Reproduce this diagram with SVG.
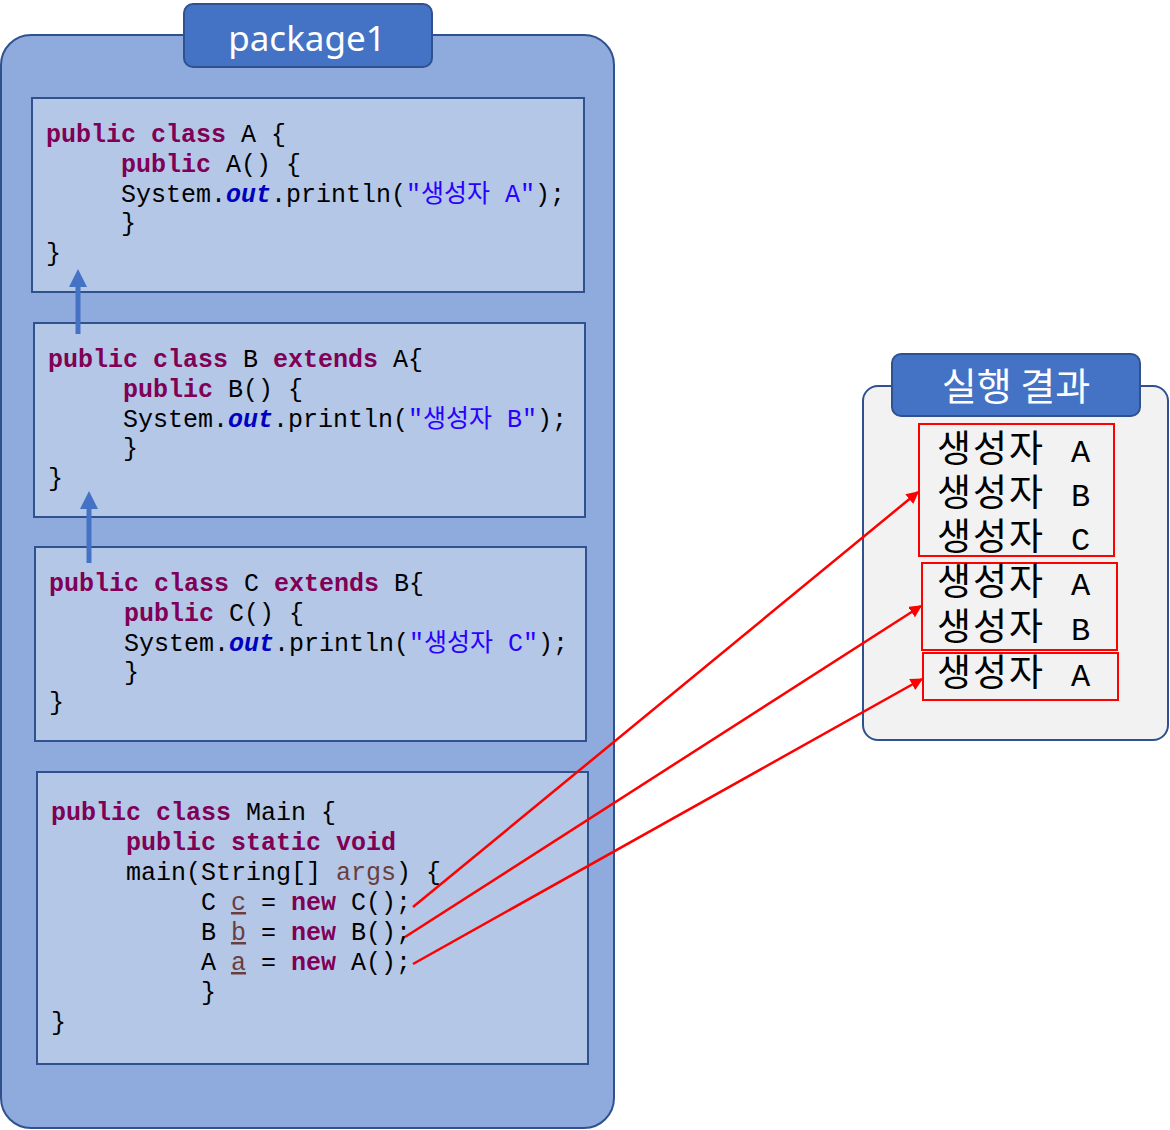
<svg xmlns="http://www.w3.org/2000/svg" width="1170" height="1130" viewBox="0 0 1170 1130" xml:space="preserve">
<defs>
<style>
.code{font-family:"Liberation Mono","Noto Sans CJK KR",monospace;font-size:25px;fill:#000}
.kw{fill:#7F0055;font-weight:bold}
.fld{fill:#0000C0;font-weight:bold;font-style:italic}
.str{fill:#2A00FF}
.var{fill:#6A3E3E}
.ul{fill:#6A3E3E;text-decoration:underline}
.box{fill:#B4C7E7;stroke:#2F528F;stroke-width:2}
.tab{fill:#4472C4;stroke:#2F528F;stroke-width:2}
.tabtxt{fill:#fff;font-family:"Noto Sans","Noto Sans CJK KR",sans-serif;font-size:35px;text-anchor:middle}
.rbox{fill:none;stroke:#FF0000;stroke-width:2}
.out{font-family:"Noto Sans CJK KR",sans-serif;font-size:37px;fill:#000;letter-spacing:2px}
.outl{font-family:"Liberation Mono",monospace;font-size:32px;letter-spacing:0}
.blue{stroke:#4472C4;stroke-width:5;fill:none}
.red{stroke:#FF0000;stroke-width:2.5;fill:none}
</style>
<marker id="bh" viewBox="0 0 10 10" refX="5" refY="5" markerWidth="4" markerHeight="3.6" orient="auto" markerUnits="strokeWidth"><path d="M0,0 L10,5 L0,10 z" fill="#4472C4"/></marker>
<marker id="rh" viewBox="0 0 10 10" refX="9" refY="5" markerWidth="5" markerHeight="5" orient="auto" markerUnits="strokeWidth"><path d="M0,0 L10,5 L0,10 z" fill="#FF0000"/></marker>
</defs>

<g id="package1">
<rect x="1" y="35" width="613" height="1093" rx="30" ry="30" fill="#8FAADC" stroke="#2F528F" stroke-width="2"/>
<rect class="tab" x="184" y="4" width="248" height="63" rx="9" ry="9"/>
<text class="tabtxt" x="307" y="51">package1</text>
</g>

<g id="classA">
<rect class="box" x="32" y="98" width="552" height="194"/>
<text class="code" x="46" y="142"><tspan class="kw">public class</tspan> A {</text>
<text class="code" x="121" y="172"><tspan class="kw">public</tspan> A() {</text>
<text class="code" x="121" y="202">System.<tspan class="fld">out</tspan>.println(<tspan class="str">"생성자 A"</tspan>);</text>
<text class="code" x="121" y="231">}</text>
<text class="code" x="46" y="261">}</text>
</g>

<g id="classB">
<rect class="box" x="34" y="323" width="551" height="194"/>
<text class="code" x="48" y="367"><tspan class="kw">public class</tspan> B <tspan class="kw">extends</tspan> A{</text>
<text class="code" x="123" y="397"><tspan class="kw">public</tspan> B() {</text>
<text class="code" x="123" y="427">System.<tspan class="fld">out</tspan>.println(<tspan class="str">"생성자 B"</tspan>);</text>
<text class="code" x="123" y="456">}</text>
<text class="code" x="48" y="486">}</text>
</g>

<g id="classC">
<rect class="box" x="35" y="547" width="551" height="194"/>
<text class="code" x="49" y="591"><tspan class="kw">public class</tspan> C <tspan class="kw">extends</tspan> B{</text>
<text class="code" x="124" y="621"><tspan class="kw">public</tspan> C() {</text>
<text class="code" x="124" y="651">System.<tspan class="fld">out</tspan>.println(<tspan class="str">"생성자 C"</tspan>);</text>
<text class="code" x="124" y="680">}</text>
<text class="code" x="49" y="710">}</text>
</g>

<g id="main">
<rect class="box" x="37" y="772" width="551" height="292"/>
<text class="code" x="51" y="820"><tspan class="kw">public class</tspan> Main {</text>
<text class="code" x="126" y="850"><tspan class="kw">public static void</tspan></text>
<text class="code" x="126" y="880">main(String[] <tspan class="var">args</tspan>) {</text>
<text class="code" x="201" y="910">C <tspan class="ul">c</tspan> = <tspan class="kw">new</tspan> C();</text>
<text class="code" x="201" y="940">B <tspan class="ul">b</tspan> = <tspan class="kw">new</tspan> B();</text>
<text class="code" x="201" y="970">A <tspan class="ul">a</tspan> = <tspan class="kw">new</tspan> A();</text>
<text class="code" x="201" y="1000">}</text>
<text class="code" x="51" y="1030">}</text>
</g>

<g id="result">
<rect x="863" y="386" width="305" height="354" rx="15" ry="15" fill="#F2F2F2" stroke="#2F528F" stroke-width="2"/>
<rect class="tab" x="892" y="354" width="248" height="62" rx="9" ry="9"/>
<text class="tabtxt" x="1016" y="400" style="font-family:'Noto Sans CJK KR',sans-serif;font-size:38px">실행 결과</text>
<rect class="rbox" x="919" y="424" width="195" height="132"/>
<rect class="rbox" x="922" y="563" width="195" height="87"/>
<rect class="rbox" x="923" y="653" width="195" height="47"/>
<text class="out"><tspan x="937" y="462">생성자 </tspan><tspan class="outl" x="1071" y="462">A</tspan><tspan x="937" y="506">생성자 </tspan><tspan class="outl" x="1071" y="506">B</tspan><tspan x="937" y="550">생성자 </tspan><tspan class="outl" x="1071" y="550">C</tspan><tspan x="937" y="595">생성자 </tspan><tspan class="outl" x="1071" y="595">A</tspan><tspan x="937" y="640">생성자 </tspan><tspan class="outl" x="1071" y="640">B</tspan><tspan x="937" y="686">생성자 </tspan><tspan class="outl" x="1071" y="686">A</tspan></text>
</g>

<g id="connectors">
<line class="blue" x1="78" y1="334" x2="78" y2="278" marker-end="url(#bh)"/>
<line class="blue" x1="89" y1="563" x2="89" y2="500" marker-end="url(#bh)"/>
<line class="red" x1="413" y1="907" x2="918" y2="492" marker-end="url(#rh)"/>
<line class="red" x1="405" y1="937" x2="921" y2="606" marker-end="url(#rh)"/>
<line class="red" x1="413" y1="964" x2="922" y2="679" marker-end="url(#rh)"/>
</g>
</svg>
